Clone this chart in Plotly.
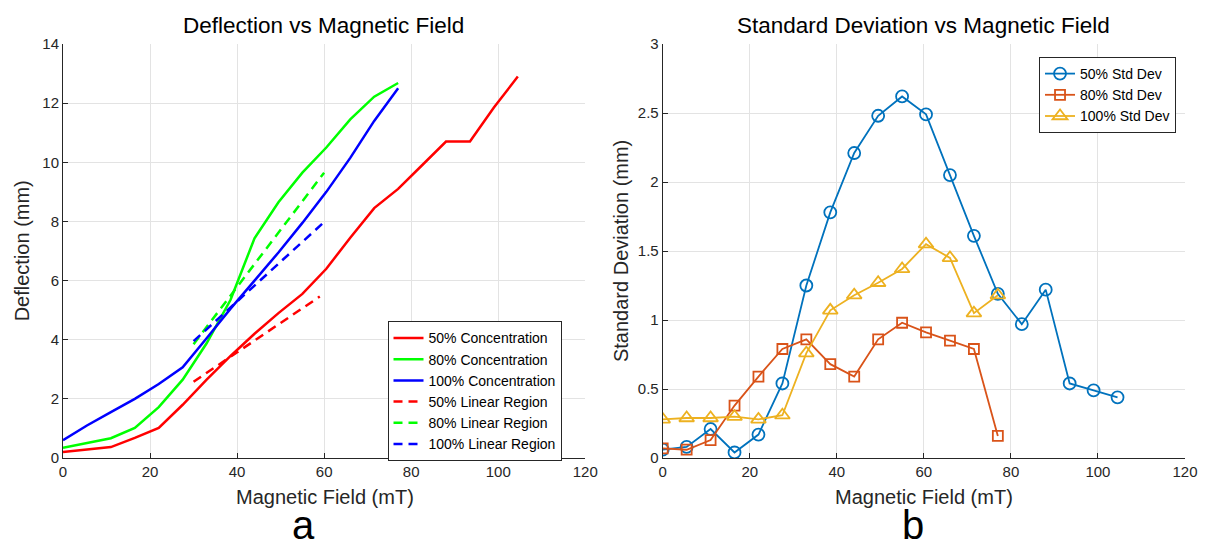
import plotly.graph_objects as go

# ---- data ----
field = [0, 5.5, 11, 16.5, 22, 27.5, 33, 38.5, 44, 49.5, 55, 60.5, 66, 71.5, 77,
         82.5, 88, 93.5, 99, 104.5]
field_short = field[:15]

defl_50 = [0.2, 0.28, 0.37, 0.68, 1.02, 1.8, 2.65, 3.45, 4.2, 4.9, 5.55, 6.4, 7.45,
           8.45, 9.1, 9.9, 10.7, 10.7, 11.85, 12.9]
defl_80 = [0.35, 0.5, 0.67, 1.02, 1.72, 2.65, 3.88, 5.35, 7.43, 8.65, 9.65, 10.5,
           11.45, 12.22, 12.68]
defl_100 = [0.6, 1.1, 1.55, 2.0, 2.5, 3.07, 4.05, 5.05, 6.0, 6.95, 7.95, 9.0, 10.15,
            11.4, 12.5]

lin_50_x = [30, 59]
lin_50_y = [2.58, 5.46]
lin_80_x = [30, 60]
lin_80_y = [3.85, 9.65]
lin_100_x = [30, 60]
lin_100_y = [3.95, 7.98]

std_50 = [0.06, 0.08, 0.21, 0.04, 0.17, 0.54, 1.25, 1.78, 2.21, 2.48, 2.62, 2.49,
          2.05, 1.61, 1.19, 0.97, 1.22, 0.54, 0.49, 0.44]
std_80 = [0.07, 0.06, 0.13, 0.38, 0.59, 0.79, 0.86, 0.68, 0.59, 0.86, 0.98, 0.91,
          0.85, 0.79, 0.16]
std_100 = [0.28, 0.29, 0.29, 0.30, 0.28, 0.31, 0.76, 1.07, 1.18, 1.27, 1.37, 1.55,
           1.45, 1.05, 1.18]

x_ticks = [0, 20, 40, 60, 80, 100, 120]
y1_ticks = [0, 2, 4, 6, 8, 10, 12, 14]
y2_ticks = [0, 0.5, 1, 1.5, 2, 2.5, 3]
y2_labels = ["0", "0.5", "1", "1.5", "2", "2.5", "3"]

FONT = "Liberation Sans, Arial, sans-serif"
AX = "#262626"
GRID = "#e3e3e3"

fig = go.Figure()

# Left panel
for xs, ys, col, name in [(field, defl_50, "#ff0000", "50% Concentration"),
                          (field_short, defl_80, "#00ff00", "80% Concentration"),
                          (field_short, defl_100, "#0000ff", "100% Concentration")]:
    fig.add_trace(go.Scatter(x=xs, y=ys, mode="lines", name=name,
                             line=dict(color=col, width=2.5),
                             xaxis="x", yaxis="y", legend="legend"))
for xs, ys, col, name in [(lin_50_x, lin_50_y, "#ff0000", "50% Linear Region"),
                          (lin_80_x, lin_80_y, "#00ff00", "80% Linear Region"),
                          (lin_100_x, lin_100_y, "#0000ff", "100% Linear Region")]:
    fig.add_trace(go.Scatter(x=xs, y=ys, mode="lines", name=name,
                             line=dict(color=col, width=2.5, dash="9px,6px"),
                             xaxis="x", yaxis="y", legend="legend"))

# Right panel
fig.add_trace(go.Scatter(x=field, y=std_50, mode="lines+markers", name="50% Std Dev",
                         line=dict(color="#0072BD", width=1.8),
                         marker=dict(symbol="circle-open", size=12, color="#0072BD",
                                     line=dict(width=1.8)),
                         xaxis="x2", yaxis="y2", legend="legend2"))
fig.add_trace(go.Scatter(x=field_short, y=std_80, mode="lines+markers", name="80% Std Dev",
                         line=dict(color="#D95319", width=1.8),
                         marker=dict(symbol="square-open", size=10, color="#D95319",
                                     line=dict(width=1.8)),
                         xaxis="x2", yaxis="y2", legend="legend2"))
fig.add_trace(go.Scatter(x=field_short, y=std_100, mode="lines+markers", name="100% Std Dev",
                         line=dict(color="#EDB120", width=1.8),
                         marker=dict(symbol="triangle-up-open", size=13, color="#EDB120",
                                     line=dict(width=1.8)),
                         xaxis="x2", yaxis="y2", legend="legend2"))

axis_common = dict(showline=True, linecolor=AX, linewidth=1, mirror=False,
                   ticks="inside", ticklen=5, tickcolor=AX, tickwidth=1,
                   showgrid=True, gridcolor=GRID, gridwidth=1, zeroline=False,
                   tickfont=dict(family=FONT, size=15, color=AX))

fig.update_layout(
    width=1210, height=544,
    margin=dict(l=63, r=15, t=44, b=86),
    paper_bgcolor="white", plot_bgcolor="white",
    font=dict(family=FONT, color=AX),
    xaxis=dict(domain=[0, 0.4655], range=[0, 120], tickvals=x_ticks, anchor="y",
               **axis_common),
    yaxis=dict(domain=[0, 1], range=[0, 14], tickvals=y1_ticks, anchor="x",
               **axis_common),
    xaxis2=dict(domain=[0.5345, 1], range=[0, 120], tickvals=x_ticks, anchor="y2",
                **axis_common),
    yaxis2=dict(domain=[0, 1], range=[0, 3], tickvals=y2_ticks, ticktext=y2_labels,
                anchor="x2", **axis_common),
    legend=dict(x=0.4443, y=0.33, xanchor="right", yanchor="top",
                bgcolor="white", bordercolor=AX, borderwidth=1,
                font=dict(family=FONT, size=14, color="#000000"),
                tracegroupgap=0, itemwidth=30),
    legend2=dict(x=0.992, y=0.9686, xanchor="right", yanchor="top",
                 bgcolor="white", bordercolor=AX, borderwidth=1,
                 font=dict(family=FONT, size=14, color="#000000"),
                 tracegroupgap=0, itemwidth=30),
    showlegend=True,
)

ann = []
def paper_x(px):
    return (px - 63) / 1132
def paper_y(py):
    return (458 - py) / 414

ann.append(dict(text="Deflection vs Magnetic Field", x=paper_x(326), y=paper_y(25),
                font=dict(size=22.5, family=FONT, color="#000000")))
ann.append(dict(text="Standard Deviation vs Magnetic Field", x=paper_x(931), y=paper_y(25),
                font=dict(size=22.5, family=FONT, color="#000000")))
ann.append(dict(text="Magnetic Field (mT)", x=paper_x(327), y=paper_y(497),
                font=dict(size=20, family=FONT, color=AX)))
ann.append(dict(text="Magnetic Field (mT)", x=paper_x(932), y=paper_y(497),
                font=dict(size=20, family=FONT, color=AX)))
ann.append(dict(text="Deflection (mm)", x=paper_x(22), y=paper_y(251), textangle=-90,
                font=dict(size=20, family=FONT, color=AX)))
ann.append(dict(text="Standard Deviation (mm)", x=paper_x(626), y=paper_y(251), textangle=-90,
                font=dict(size=20, family=FONT, color=AX)))
ann.append(dict(text="a", x=paper_x(306), y=paper_y(525),
                font=dict(size=40, family=FONT, color="#000000")))
ann.append(dict(text="b", x=paper_x(921), y=paper_y(525),
                font=dict(size=40, family=FONT, color="#000000")))
for a in ann:
    a.update(xref="paper", yref="paper", showarrow=False, xanchor="center", yanchor="middle")
fig.update_layout(annotations=ann)

fig.write_html("out.html")
